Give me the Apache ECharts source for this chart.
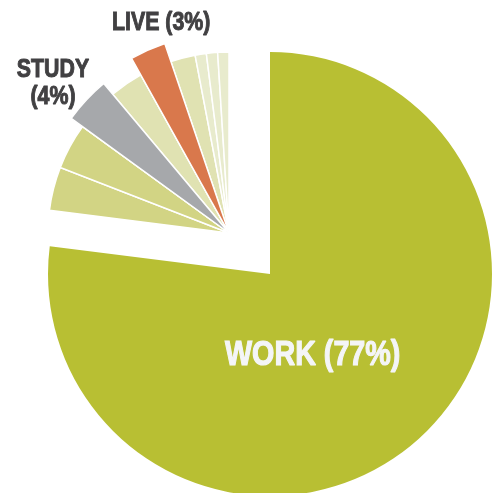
<!DOCTYPE html>
<html>
<head>
<meta charset="utf-8">
<script src="https://cdn.jsdelivr.net/npm/echarts@6/dist/echarts.min.js"></script>
<style>
html,body{margin:0;padding:0;background:#fff;}
#c{width:494px;height:493px;}
</style>
</head>
<body>
<div id="c"></div>
<script>
const categories = ['WORK', 'Other 1', 'Other 2', 'STUDY', 'Other 3', 'LIVE', 'Other 4', 'Other 5', 'Other 6', 'Other 7'];
const values = [77, 3.9, 4.1, 3.9, 3.0, 2.9, 2.2, 1.0, 1.0, 1.0];
const colors = ['#b8bf33', '#d2d484', '#d2d484', '#a6a8ab', '#e0e2b2', '#d9784c', '#e0e2b2', '#e8ebcd', '#e8ebcd', '#e8ebcd'];
const labelled = ['WORK', 'STUDY', 'LIVE'];

const FONT = '"Liberation Sans", Arial, sans-serif';
const CLEAR = 'rgba(0,0,0,0)';

function pct(name) {
  return Math.round(values[categories.indexOf(name)]);
}

function dataFor(filter, border) {
  return categories.map((c, i) => ({
    name: c,
    value: values[i],
    itemStyle: filter(c, i)
      ? { color: colors[i], borderColor: '#fff', borderWidth: border }
      : { color: CLEAR, borderWidth: 0 }
  }));
}

const common = {
  type: 'pie',
  startAngle: 90,
  clockwise: true,
  silent: true,
  animation: false,
  label: { show: false },
  labelLine: { show: false },
  avoidLabelOverlap: false
};

const chart = echarts.init(document.getElementById('c'), null, { renderer: 'canvas' });
chart.setOption({
  backgroundColor: '#ffffff',
  series: [
    Object.assign({}, common, {
      center: [270, 274],
      radius: [0, 222],
      data: dataFor((c) => c === 'WORK', 0)
    }),
    Object.assign({}, common, {
      center: [229, 233],
      radius: [0, 181],
      data: dataFor((c) => c !== 'WORK', 1.5)
    }),
    Object.assign({}, common, {
      center: [229, 233],
      radius: [0, 195],
      data: dataFor((c) => c === 'STUDY', 1.5)
    }),
    Object.assign({}, common, {
      center: [229, 233],
      radius: [0, 200],
      data: dataFor((c) => c === 'LIVE', 1.5)
    })
  ],
  graphic: [
    {
      type: 'text', x: 225, y: 355, scaleX: 0.82, z: 100, silent: true,
      style: { text: labelled[0] + ' (' + pct('WORK') + '%)', fill: '#f4f5f7', stroke: '#f4f5f7', lineWidth: 1.2, font: 'bold 35px ' + FONT, align: 'left', verticalAlign: 'middle' }
    },
    {
      type: 'text', x: 112, y: 23, scaleX: 0.82, z: 100, silent: true,
      style: { text: labelled[2] + ' (' + pct('LIVE') + '%)', fill: '#414042', stroke: '#414042', lineWidth: 1, font: 'bold 26px ' + FONT, align: 'left', verticalAlign: 'middle' }
    },
    {
      type: 'text', x: 53, y: 83, scaleX: 0.82, z: 100, silent: true,
      style: { text: labelled[1] + '\n(' + pct('STUDY') + '%)', fill: '#414042', stroke: '#414042', lineWidth: 1, font: 'bold 26px ' + FONT, align: 'center', verticalAlign: 'middle', lineHeight: 27 }
    }
  ]
});
</script>
</body>
</html>
